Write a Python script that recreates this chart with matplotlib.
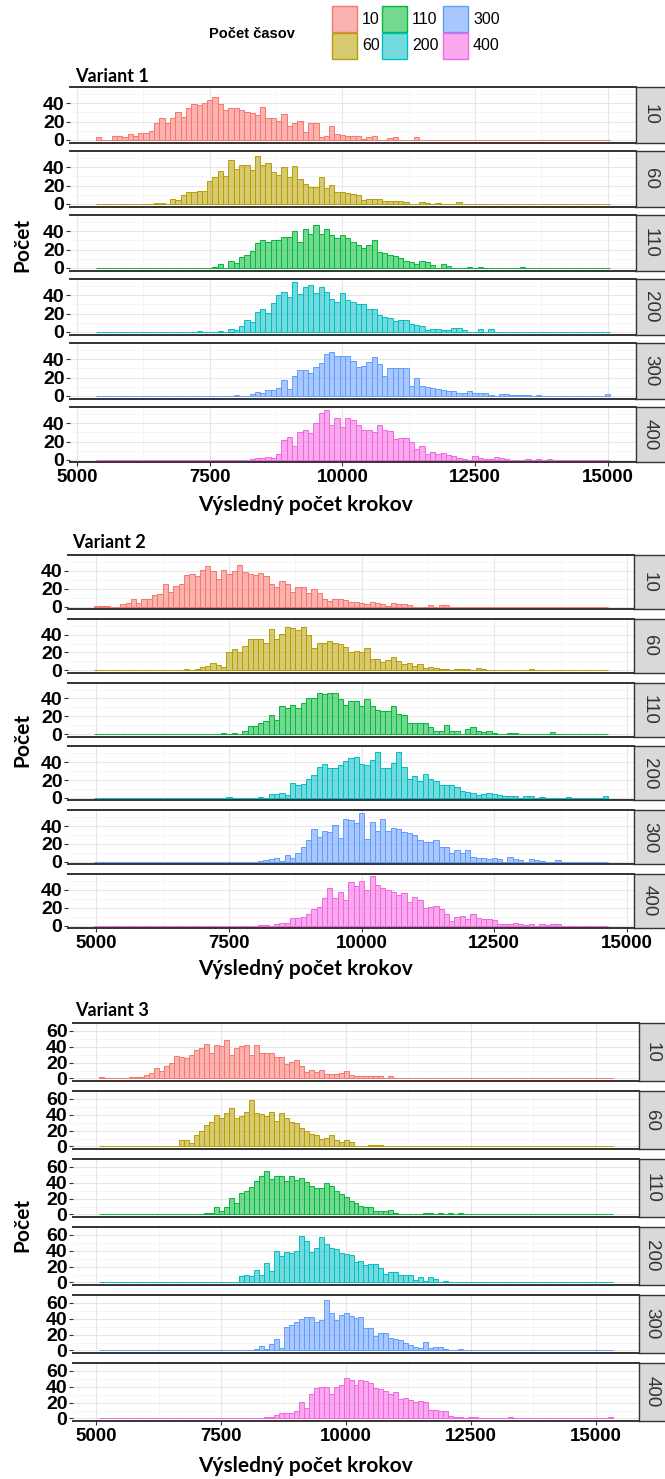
import numpy as np
import matplotlib
matplotlib.use("Agg")
import matplotlib.pyplot as plt
from matplotlib.patches import Rectangle
from matplotlib.colors import to_rgba

# DATA: histogram counts, bins 100 steps wide
groups = ["10", "60", "110", "200", "300", "400"]
hues = ["#F8766D", "#B79F00", "#00BA38", "#00BFC4", "#619CFF", "#F564E3"]

# Variant 1 : bins from 5350 to 15050
v1_range = (5350, 15050)
v1_10 = [3,0,0,4,4,3,7,4,8,8,10,18,24,18,24,31,25,35,39,38,
         40,44,47,39,33,35,35,33,31,29,27,36,24,24,21,28,15,18,21,9,
         18,18,3,4,15,7,5,4,4,4,1,3,4,0,0,2,3,0,0,0,
         3,0,0,0,0,0,0,0,0,0,0,0,0,0,0,0,0,0,0,0,
         0,0,0,0,0,0,0,0,0,0,0,0,0,0,0,0,0]
v1_60 = [0,0,0,0,0,0,0,0,0,0,0,1,1,0,5,4,10,13,13,14,
         14,25,29,36,30,48,38,43,42,37,52,42,45,35,32,40,29,41,27,22,
         18,19,29,17,21,13,13,12,11,10,4,5,5,5,3,3,3,3,2,0,
         0,2,1,0,1,0,0,0,2,0,0,0,0,0,0,0,0,0,0,0,
         0,0,0,0,0,0,0,0,0,0,0,0,0,0,0,0,0]
v1_110 = [0,0,0,0,0,0,0,0,0,0,0,0,0,0,0,0,0,0,0,0,
          0,0,1,4,0,8,5,12,14,19,27,30,28,30,31,34,34,40,28,43,
          37,47,37,42,36,33,36,33,28,25,22,25,30,17,16,14,13,11,8,7,
          4,8,7,3,0,4,2,0,0,0,1,0,1,0,0,0,0,0,0,0,
          1,0,0,0,0,0,0,0,0,0,0,0,0,0,0,0,0]
v1_200 = [0,0,0,0,0,0,0,0,0,0,0,0,0,0,0,0,0,0,0,1,
          0,0,0,1,0,3,2,7,13,11,22,25,21,32,40,44,38,55,41,49,
          51,42,49,44,36,33,43,35,33,31,30,25,25,19,16,15,12,13,13,9,
          8,7,2,3,3,2,2,4,4,2,0,0,3,0,3,0,0,0,0,0,
          0,0,0,0,0,0,0,0,0,0,0,0,0,0,0,0,0]
v1_300 = [0,0,0,0,0,0,0,0,0,0,0,0,0,0,0,0,0,0,0,0,
          0,0,0,0,0,0,1,0,0,2,4,3,7,6,9,17,8,22,28,28,
          25,32,36,46,48,44,44,44,38,32,33,37,42,35,22,31,31,30,31,11,
          20,11,10,9,8,7,5,5,3,3,5,3,3,3,1,0,2,2,1,1,
          1,1,0,1,0,0,0,0,0,0,0,0,0,0,0,0,2]
v1_400 = [0,0,0,0,0,0,0,0,0,0,0,0,0,0,0,0,0,0,0,0,
          0,0,0,0,0,0,0,0,0,1,2,2,3,2,7,22,25,15,31,33,
          29,40,51,54,38,46,36,46,44,38,33,33,30,38,33,32,23,24,24,20,
          12,15,7,9,7,8,5,4,2,1,0,4,2,1,1,3,2,1,0,0,
          0,1,0,1,0,1,0,0,0,0,0,0,0,0,0,0,0]

# Variant 2 : bins from 4950 to 14650
v2_range = (4950, 14650)
v2_10 = [1,1,1,0,0,3,4,8,4,8,9,13,14,25,16,23,25,35,36,34,
         41,45,40,31,41,36,40,47,39,37,35,38,34,25,22,29,25,16,22,22,
         15,20,15,8,6,9,8,7,5,5,4,3,5,4,3,1,4,3,3,2,
         0,0,0,2,0,2,2,0,0,0,0,0,0,0,0,0,0,0,0,0,
         0,0,0,0,0,0,0,0,0,0,0,0,0,0,0,0,0]
v2_60 = [0,0,0,0,0,0,0,0,0,0,0,0,0,0,0,0,0,1,0,2,
         4,5,8,6,4,21,24,21,27,35,35,35,31,46,35,41,49,47,45,49,
         40,25,31,31,33,31,30,26,21,22,20,25,13,13,9,12,15,11,7,8,
         5,7,3,4,3,2,2,0,2,2,2,0,3,1,0,0,0,0,0,0,
         0,0,1,0,0,0,0,0,0,0,0,0,0,0,0,0,0]
v2_110 = [0,0,0,0,0,0,0,0,0,0,0,0,0,0,0,0,0,0,0,0,
          0,0,0,0,1,0,1,0,3,9,9,12,15,21,16,31,29,33,29,35,
          41,40,46,45,46,46,39,33,37,37,32,39,31,27,26,26,31,23,21,13,
          13,13,13,8,3,3,10,3,3,0,6,8,3,2,3,1,0,0,1,1,
          0,0,0,0,0,0,2,0,0,0,0,0,0,0,0,0,0]
v2_200 = [0,0,0,0,0,0,0,0,0,0,0,0,0,0,0,0,0,0,0,0,
          0,0,0,0,0,1,0,0,0,0,0,1,0,4,4,5,3,17,15,16,
          21,26,35,38,34,33,37,41,45,46,38,37,42,51,34,34,39,52,35,21,
          25,19,27,21,19,15,15,14,12,8,7,6,3,4,5,4,3,2,2,2,
          0,2,2,0,1,0,0,0,0,1,0,0,0,0,0,0,2]
v2_300 = [0,0,0,0,0,0,0,0,0,0,0,0,0,0,0,0,0,0,0,0,
          0,0,0,0,0,0,0,0,0,0,0,1,2,3,4,1,7,4,10,16,
          24,37,28,35,33,41,27,48,47,43,55,25,45,35,48,35,38,37,33,32,
          30,24,22,22,24,17,16,10,13,10,13,5,4,4,3,4,3,0,5,3,
          2,0,3,2,1,0,0,2,0,0,0,0,0,0,0,0,0]
v2_400 = [0,0,0,0,0,0,0,0,0,0,0,0,0,0,0,0,0,0,0,0,
          0,0,0,0,0,0,0,0,0,0,0,1,1,0,2,3,3,9,9,10,
          13,18,21,31,42,31,38,29,49,44,50,40,55,45,42,40,38,34,36,26,
          32,29,20,21,22,18,13,5,10,11,7,13,8,7,7,6,2,2,2,3,
          2,1,2,0,2,1,2,2,0,0,0,0,0,0,0,0,0]

# Variant 3 : bins from 5050 to 15350
v3_range = (5050, 15350)
v3_10 = [2,0,0,0,0,0,2,2,2,4,7,13,9,16,20,28,27,26,30,36,
         38,44,32,42,41,48,30,38,41,42,30,42,32,32,32,27,27,18,21,23,
         16,8,11,8,11,6,6,6,7,9,4,3,3,3,3,3,3,0,3,0,
         0,0,0,0,0,0,1,0,0,0,0,1,0,0,0,0,0,0,0,0,
         0,0,0,0,0,0,0,0,0,0,0,0,0,0,0,0,0,0,0,0,
         0,0,0]
v3_60 = [0,0,0,0,0,0,0,0,0,0,0,0,1,1,0,0,8,8,5,15,
         19,27,31,40,36,42,49,36,39,43,59,42,41,38,43,32,42,36,31,29,
         23,20,16,15,10,11,14,8,6,8,6,1,0,0,2,2,2,0,0,0,
         0,0,0,0,0,0,0,0,0,0,0,0,0,0,0,0,0,0,0,0,
         0,0,0,0,0,0,0,0,0,0,0,0,0,0,0,0,0,0,0,0,
         0,0,0]
v3_110 = [0,0,0,0,0,0,0,0,0,0,0,0,0,0,0,0,0,0,0,0,
          1,2,2,9,4,9,21,15,27,30,35,42,49,55,45,49,49,42,49,44,
          46,41,36,33,33,40,36,30,26,22,17,15,11,9,10,5,5,4,6,2,
          1,0,0,0,0,2,2,0,2,0,2,0,2,0,0,0,0,0,0,0,
          0,0,0,0,0,0,0,0,0,0,0,0,0,0,0,0,0,0,0,0,
          0,0,0]
v3_200 = [0,0,0,0,0,0,0,0,0,0,0,0,0,0,0,0,0,0,0,0,
          0,0,1,1,1,1,1,1,8,10,8,16,10,25,15,40,33,39,37,40,
          59,52,38,43,58,48,43,42,37,36,35,26,27,22,23,23,18,11,13,13,
          10,9,9,3,7,2,7,4,1,2,0,0,0,0,0,0,0,0,0,0,
          0,0,0,0,0,0,0,0,0,0,0,0,0,0,0,0,0,0,0,0,
          0,0,0]
v3_300 = [0,0,0,0,0,0,0,0,0,0,0,0,0,0,0,0,0,0,0,0,
          0,0,0,0,0,0,0,0,0,0,0,2,6,2,8,15,3,30,32,36,
          40,42,42,36,39,64,47,39,45,47,44,41,42,28,28,18,22,22,16,15,
          13,9,7,4,3,11,3,4,5,2,1,0,2,0,0,0,0,0,0,0,
          0,0,0,0,0,0,0,0,0,0,0,0,0,0,0,0,0,0,0,0,
          0,0,0]
v3_400 = [0,0,0,0,0,0,0,0,0,0,0,0,0,0,0,0,0,0,0,0,
          0,0,0,0,0,0,0,0,0,0,0,1,1,2,2,4,7,7,7,10,
          21,13,31,38,40,40,31,40,42,51,49,42,49,47,45,38,37,35,31,33,
          25,26,23,21,22,21,11,11,10,10,3,2,2,1,2,2,1,0,0,0,
          0,1,2,0,1,1,0,0,0,0,1,0,0,0,0,0,0,0,0,0,
          0,0,2]

xticks = [5000, 7500, 10000, 12500, 15000]
xminor = [6250, 8750, 11250, 13750]

# LAYOUT (pixels)
W, H = 665, 1479
blocks = [
    dict(title="Variant 1", rng=v1_range, data=[v1_10, v1_60, v1_110, v1_200, v1_300, v1_400],
         left=70, right=636, top=87, pitch=64, height=55.5, yticks=[0, 20, 40],
         title_xy=(75, 76), xlab_y=505, ylab_y=245),
    dict(title="Variant 2", rng=v2_range, data=[v2_10, v2_60, v2_110, v2_200, v2_300, v2_400],
         left=68, right=634, top=555, pitch=63.8, height=54, yticks=[0, 20, 40],
         title_xy=(72, 543), xlab_y=969, ylab_y=740),
    dict(title="Variant 3", rng=v3_range, data=[v3_10, v3_60, v3_110, v3_200, v3_300, v3_400],
         left=73, right=639, top=1023, pitch=68, height=58, yticks=[0, 20, 40, 60],
         title_xy=(75, 1011), xlab_y=1466, ylab_y=1225),
]

narrow = ["Liberation Sans Narrow", "Liberation Sans", "DejaVu Sans"]
sans = ["Liberation Sans", "DejaVu Sans"]
title_font = ["Lato", "DejaVu Sans"]

fig = plt.figure(figsize=(W / 100, H / 100), dpi=100)
fig.patch.set_facecolor("white")


def px_axes(x, y, w, h):
    return fig.add_axes([x / W, 1 - (y + h) / H, w / W, h / H])


for b in blocks:
    lo, hi = b["rng"]
    edges = np.arange(lo, hi + 100, 100)
    span = hi - lo
    ymax = max(max(c) for c in b["data"])
    for k, counts in enumerate(b["data"]):
        assert len(counts) == len(edges) - 1
        top = b["top"] + k * b["pitch"]
        ax = px_axes(b["left"], top, b["right"] - b["left"], b["height"])
        ax.set_axisbelow(True)
        ax.bar(edges[:-1], counts, width=100, align="edge",
               color=to_rgba(hues[k], 0.55), edgecolor=hues[k], linewidth=0.7, zorder=2)
        ax.set_xlim(lo - 0.05 * span, hi + 0.05 * span)
        ax.set_ylim(-0.05 * ymax, 1.05 * ymax)
        ax.set_xticks(xticks)
        ax.set_xticks(xminor, minor=True)
        yt = b["yticks"]
        ax.set_yticks(yt, labels=[str(v) for v in yt], fontsize=14,
                      fontweight="bold", family=narrow)
        ax.set_yticks([v + 10 for v in yt], minor=True)
        ax.grid(which="major", color="#E6E6E6", linewidth=0.8)
        ax.grid(which="minor", color="#F1F1F1", linewidth=0.5)
        ax.tick_params(axis="y", which="major", length=3, width=0.8, color="#333333", pad=1)
        ax.tick_params(axis="both", which="minor", length=0)
        for s in ["left", "right"]:
            ax.spines[s].set_visible(False)
        for s in ["top", "bottom"]:
            ax.spines[s].set_color("#333333")
            ax.spines[s].set_linewidth(1.4)
        if k == 5:
            ax.set_xticklabels([str(v) for v in xticks], fontsize=13.5,
                               fontweight="bold", family=narrow)
            ax.tick_params(axis="x", which="major", length=3, width=0.8, color="#333333", pad=2)
        else:
            ax.tick_params(axis="x", which="major", length=0, labelbottom=False)

        # facet strip on the right
        sx = px_axes(b["right"], top, W - b["right"] + 6, b["height"])
        sx.set_facecolor("#D9D9D9")
        sx.set_xticks([])
        sx.set_yticks([])
        for s in sx.spines.values():
            s.set_color("#333333")
            s.set_linewidth(1.0)
        sx.text(0.5 * (W - b["right"]) / (W - b["right"] + 6), 0.5, groups[k],
                transform=sx.transAxes, rotation=-90, ha="center", va="center",
                fontsize=13.5, color="#333333", family=sans)

    fig.text(b["title_xy"][0] / W, 1 - b["title_xy"][1] / H, b["title"],
             ha="left", va="center", fontsize=13, fontweight="bold", family=title_font)
    fig.text(305 / W, 1 - b["xlab_y"] / H, "Výsledný počet krokov",
             ha="center", va="center", fontsize=15, fontweight="bold", family=title_font)
    fig.text(22 / W, 1 - b["ylab_y"] / H, "Počet", rotation=90,
             ha="center", va="center", fontsize=15, fontweight="bold", family=title_font)

# legend at the top
fig.text(252 / W, 1 - 34 / H, "Počet časov", ha="center", va="center",
         fontsize=10.5, fontweight="bold", family=sans)
key_x = [332, 382, 443]
key_y = [6, 33]
for k, g in enumerate(groups):
    col, row = k // 2, k % 2
    x, y = key_x[col], key_y[row]
    fig.patches.append(Rectangle((x / W, 1 - (y + 26) / H), 25 / W, 26 / H,
                                 transform=fig.transFigure,
                                 facecolor=to_rgba(hues[k], 0.55), edgecolor=hues[k],
                                 linewidth=1.0))
    fig.text((x + 30) / W, 1 - (y + 13) / H, g, ha="left", va="center",
             fontsize=11.5, family=narrow)

fig.savefig("out.png", dpi=100)
